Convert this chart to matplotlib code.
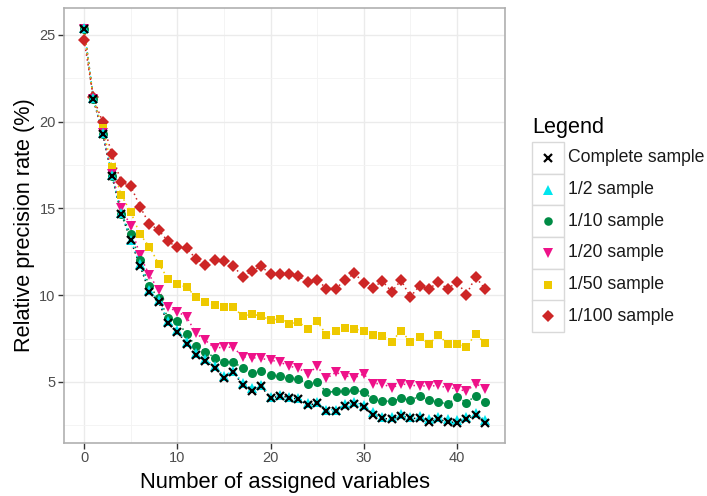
import matplotlib
matplotlib.use("Agg")
import matplotlib.pyplot as plt
from matplotlib.lines import Line2D
from matplotlib.patches import Rectangle
from matplotlib.ticker import MultipleLocator

plt.rcParams['font.family'] = ['Liberation Sans', 'DejaVu Sans']

x_vals = list(range(44))

complete = [25.35, 21.3, 19.3, 16.85, 14.7, 13.15, 11.7, 10.2, 9.6, 8.4, 7.9, 7.2, 6.55, 6.2, 5.8,
            5.25, 5.55, 4.85, 4.5, 4.75, 4.05, 4.2, 4.1, 4.0, 3.65, 3.78, 3.3, 3.3, 3.6, 3.75, 3.55,
            3.1, 2.9, 2.85, 3.05, 2.9, 2.9, 2.7, 2.85, 2.7, 2.65, 2.85, 3.1, 2.62]
half = [25.4, 21.35, 19.35, 16.9, 14.75, 13.2, 11.8, 10.3, 9.7, 8.5, 8.0, 7.3, 6.65, 6.3, 5.9,
        5.35, 5.65, 4.95, 4.65, 4.85, 4.15, 4.25, 4.15, 4.05, 3.8, 3.85, 3.4, 3.4, 3.7, 3.85, 3.65,
        3.25, 3.0, 3.0, 3.15, 3.0, 3.05, 2.85, 3.0, 2.85, 2.8, 2.95, 3.2, 2.8]
tenth = [25.35, 21.3, 19.3, 16.85, 14.7, 13.5, 12.05, 10.5, 9.85, 8.7, 8.5, 7.75, 7.05, 6.75, 6.4,
         6.15, 6.15, 5.8, 5.5, 5.6, 5.4, 5.35, 5.25, 5.15, 4.9, 5.0, 4.4, 4.45, 4.45, 4.55, 4.4,
         4.0, 3.9, 3.88, 4.05, 3.95, 4.18, 3.95, 3.87, 3.7, 4.15, 3.8, 4.2, 3.82]
twentieth = [25.35, 21.3, 19.35, 16.95, 15.0, 14.0, 12.3, 11.15, 10.3, 9.3, 9.05, 8.75, 7.8, 7.4, 6.95,
             7.0, 7.0, 6.45, 6.4, 6.35, 6.25, 6.15, 5.9, 5.8, 5.45, 5.9, 5.2, 5.55, 5.35, 5.25, 5.45,
             4.9, 4.9, 4.65, 4.9, 4.8, 4.78, 4.75, 4.8, 4.65, 4.62, 4.45, 4.9, 4.62]
fiftieth = [25.35, 21.3, 19.6, 17.4, 15.75, 14.8, 13.5, 12.8, 11.8, 10.95, 10.65, 10.45, 9.9, 9.6, 9.45,
            9.3, 9.3, 8.8, 8.9, 8.8, 8.55, 8.65, 8.35, 8.45, 8.07, 8.5, 7.7, 7.92, 8.08, 8.05, 7.95,
            7.7, 7.64, 7.32, 7.95, 7.32, 7.61, 7.18, 7.7, 7.18, 7.18, 7.0, 7.76, 7.22]
hundredth = [24.7, 21.4, 19.95, 18.1, 16.5, 16.3, 15.1, 14.1, 13.75, 13.1, 12.75, 12.7, 12.1, 11.75, 12.05,
             11.95, 11.7, 11.05, 11.4, 11.65, 11.2, 11.2, 11.2, 11.1, 10.75, 10.88, 10.38, 10.38, 10.86, 11.25, 10.71,
             10.43, 10.81, 10.19, 10.86, 9.9, 10.55, 10.34, 10.78, 10.34, 10.77, 10.03, 11.05, 10.35]

labels = ["Complete sample", "1/2 sample", "1/10 sample", "1/20 sample", "1/50 sample", "1/100 sample"]
series = [complete, half, tenth, twentieth, fiftieth, hundredth]
colors = ["#000000", "#00E5EE", "#008B45", "#EE1289", "#EEC900", "#CD2626"]
markers = ["x", "^", "o", "v", "s", "D"]
msizes = [6.0, 7.0, 6.5, 7.0, 6.2, 6.0]

W, H = 707, 496
fig = plt.figure(figsize=(W / 100, H / 100), dpi=100)
ax = fig.add_axes([64 / W, 1 - 443 / H, (505 - 64) / W, (443 - 8) / H])

for idx in reversed(range(len(series))):
    ys = series[idx]
    c = colors[idx]
    ax.plot(x_vals, ys, linestyle=(0, (1, 2.2)), color=c, lw=1.1, zorder=2 + idx * 0.01)
for idx in reversed(range(len(series))):
    ys = series[idx]
    c = colors[idx]
    if markers[idx] == "x":
        ax.plot(x_vals, ys, linestyle="none", marker="x", ms=msizes[idx], mew=1.6, color=c, zorder=4)
    else:
        ax.plot(x_vals, ys, linestyle="none", marker=markers[idx], ms=msizes[idx], mew=0,
                color=c, zorder=3)

ax.margins(x=0.05, y=0.05)
ax.xaxis.set_major_locator(MultipleLocator(10))
ax.xaxis.set_minor_locator(MultipleLocator(5))
ax.yaxis.set_major_locator(MultipleLocator(5))
ax.yaxis.set_minor_locator(MultipleLocator(2.5))
ax.grid(True, which="major", color="#EBEBEB", lw=1.0, zorder=0)
ax.grid(True, which="minor", color="#F3F3F3", lw=0.6, zorder=0)
ax.set_axisbelow(True)
for s in ax.spines.values():
    s.set_color("#B0B0B0")
    s.set_linewidth(1.2)
ax.tick_params(which="major", direction="out", length=4, width=1.0, color="#333333",
               labelsize=10.5, labelcolor="#4D4D4D", pad=2)
ax.tick_params(which="minor", length=0)

ax.set_xlabel("Number of assigned variables", fontsize=15.8, labelpad=5)
ax.set_ylabel("Relative precision rate (%)", fontsize=15.6, labelpad=3)

# legend (ggplot-style keys)
fig.text(532 / W, 1 - 127 / H, "Legend", fontsize=15.6, va="center", ha="left")
key_top = 142.0
key_h = 31.7
for k in range(len(labels)):
    top = key_top + k * key_h
    fig.add_artist(Rectangle((532 / W, 1 - (top + key_h) / H), 31.5 / W, key_h / H,
                             transform=fig.transFigure, facecolor="white",
                             edgecolor="#D9D9D9", lw=1.0))
    cy = 1 - (top + key_h / 2) / H
    if markers[k] == "x":
        fig.add_artist(Line2D([547.5 / W], [cy], marker="x", ms=5.5, mew=1.6,
                              color=colors[k], linestyle="none", transform=fig.transFigure))
    else:
        fig.add_artist(Line2D([547.5 / W], [cy], marker=markers[k], ms=msizes[k] * 0.95, mew=0,
                              color=colors[k], linestyle="none", transform=fig.transFigure))
    fig.text(568 / W, cy, labels[k], fontsize=12.7, va="center", ha="left", color="#1A1A1A")

fig.savefig("out.png", dpi=100)
